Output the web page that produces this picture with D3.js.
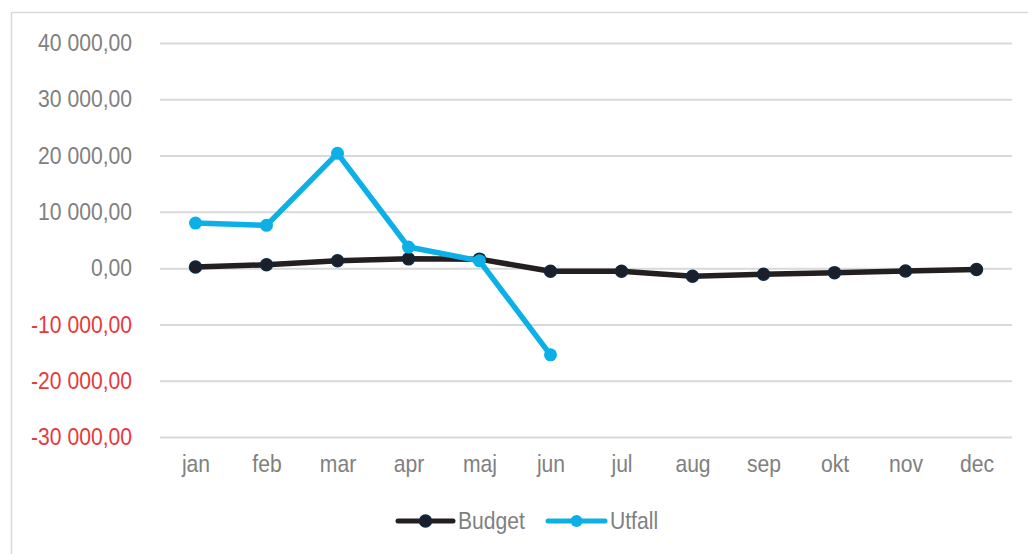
<!DOCTYPE html>
<html>
<head>
<meta charset="utf-8">
<script src="https://cdn.jsdelivr.net/npm/d3@7"></script>
<style>
  body { margin: 0; background: #fff; }
  svg text { font-family: "Liberation Sans", Arial, sans-serif; }
</style>
</head>
<body>
<div id="chart"></div>
<script>
var months = ["jan", "feb", "mar", "apr", "maj", "jun", "jul", "aug", "sep", "okt", "nov", "dec"]
var budget = [200, 600, 1300, 1650, 1600, -550, -550, -1450, -1100, -800, -500, -250]
var utfall = [8000, 7600, 20400, 3750, 1300, -15400]
var yTicks = [-30000, -20000, -10000, 0, 10000, 20000, 30000, 40000]

var width = 1028,
  height = 554,
  squeeze = 0.88 // narrow look of the original font

var svg = d3.select("#chart")
  .append("svg")
  .attr("width", width)
  .attr("height", height)

// chart frame, open to the right and bottom
svg.append("rect")
  .attr("x", 11.5)
  .attr("y", 12.5)
  .attr("width", 1040)
  .attr("height", 570)
  .attr("fill", "none")
  .attr("stroke", "#d9d9d9")
  .attr("stroke-width", 1.5)

var x = d3.scalePoint()
  .domain(months)
  .range([160, 1012])
  .padding(0.5)

var y = d3.scaleLinear()
  .domain([-30000, 40000])
  .range([437, 43])

var fmt = function (v) {
  var s = d3.format(",.2f")(v)
  return s.replace(/,/g, " ").replace(".", ",").replace("−", "-")
}

var yAxis = svg.append("g")
  .attr("transform", "translate(160,0)")
  .call(d3.axisLeft(y).tickValues(yTicks).tickSize(-852).tickPadding(28).tickFormat(fmt))

yAxis.select(".domain").remove()
yAxis.selectAll("line")
  .attr("stroke", "#d9d9d9")
  .attr("stroke-width", 2)
yAxis.selectAll("text")
  .attr("font-size", 24)
  .attr("x", -28 / squeeze)
  .attr("transform", "scale(" + squeeze + ",1)")
  .attr("fill", function (d) { return d < 0 ? "#e8383a" : "#808080" })

var xAxis = svg.append("g")
  .attr("transform", "translate(0,437)")
  .call(d3.axisBottom(x).tickSize(0).tickPadding(18))

xAxis.select(".domain").remove()
xAxis.selectAll("text")
  .attr("font-size", 24)
  .attr("transform", "scale(" + squeeze + ",1)")
  .attr("fill", "#808080")

var line = d3.line()
  .x(function (d, i) { return x(months[i]) })
  .y(function (d) { return y(d) })

svg.append("path")
  .datum(budget)
  .attr("d", line)
  .attr("fill", "none")
  .attr("stroke", "#231f20")
  .attr("stroke-width", 5.5)
  .attr("stroke-linejoin", "round")

svg.append("g")
  .selectAll("circle")
  .data(budget)
  .enter()
  .append("circle")
  .attr("cx", function (d, i) { return x(months[i]) })
  .attr("cy", function (d) { return y(d) })
  .attr("r", 6)
  .attr("fill", "#1c1f28")
  .attr("stroke", "#0e2841")
  .attr("stroke-width", 1.5)

svg.append("path")
  .datum(utfall)
  .attr("d", line)
  .attr("fill", "none")
  .attr("stroke", "#0db0e6")
  .attr("stroke-width", 5.5)
  .attr("stroke-linejoin", "round")

svg.append("g")
  .selectAll("circle")
  .data(utfall)
  .enter()
  .append("circle")
  .attr("cx", function (d, i) { return x(months[i]) })
  .attr("cy", function (d) { return y(d) })
  .attr("r", 6.5)
  .attr("fill", "#0db0e6")

// legend
var legendItems = [
  { name: "Budget", color: "#231f20", fill: "#1c1f28", stroke: "#0e2841", x0: 398, x1: 453 },
  { name: "Utfall", color: "#0db0e6", fill: "#0db0e6", stroke: "none", x0: 548, x1: 605 }
]

var legend = svg.append("g")
  .selectAll("g")
  .data(legendItems)
  .enter()
  .append("g")

legend.append("line")
  .attr("x1", function (d) { return d.x0 })
  .attr("x2", function (d) { return d.x1 })
  .attr("y1", 521)
  .attr("y2", 521)
  .attr("stroke", function (d) { return d.color })
  .attr("stroke-width", 5)
  .attr("stroke-linecap", "round")

legend.append("circle")
  .attr("cx", function (d) { return (d.x0 + d.x1) / 2 })
  .attr("cy", 521)
  .attr("r", 6)
  .attr("fill", function (d) { return d.fill })
  .attr("stroke", function (d) { return d.stroke })
  .attr("stroke-width", 1.5)

legend.append("text")
  .attr("x", function (d) { return (d.x1 + 5) / squeeze })
  .attr("y", 521)
  .attr("dy", "0.35em")
  .attr("transform", "scale(" + squeeze + ",1)")
  .attr("font-size", 24)
  .attr("fill", "#808080")
  .text(function (d) { return d.name })
</script>
</body>
</html>
